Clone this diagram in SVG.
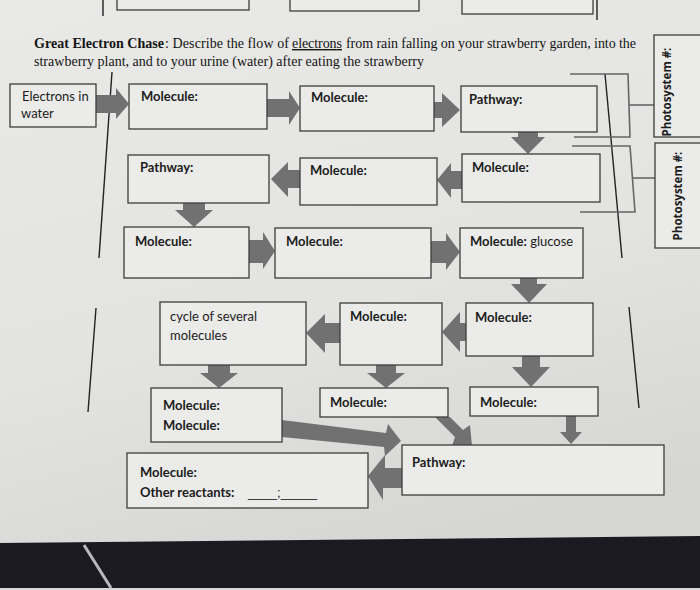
<svg xmlns="http://www.w3.org/2000/svg" width="700" height="590" viewBox="0 0 700 590">
<defs>
<linearGradient id="paper" x1="0" y1="0" x2="0.3" y2="1">
<stop offset="0" stop-color="#e9e9e7"/>
<stop offset="0.6" stop-color="#e3e3e1"/>
<stop offset="1" stop-color="#d6d6d4"/>
</linearGradient>
<style>
.box{fill:#ebebe9;stroke:#3c3c3c;stroke-width:1.3}
.arr{fill:#717171;stroke:none}
.ln{stroke:#222;stroke-width:1.4;fill:none}
.br{stroke:#666;stroke-width:1.6;fill:none}
.lbl{font-family:Lato,"Liberation Sans",sans-serif;font-size:13px;fill:#1c1c1c}
.b{font-weight:bold}
.blank{font-family:"Liberation Sans",sans-serif;font-size:13px;fill:#1c1c1c}
.ttl{font-family:"Liberation Serif",serif;font-size:14px;fill:#141414}
.ps{font-family:"Open Sans","Liberation Sans",sans-serif;font-size:11.5px;font-weight:bold;fill:#1c1c1c}
</style>
</defs>
<rect x="0" y="0" width="700" height="590" fill="url(#paper)"/>

<!-- top partial boxes -->
<g id="top-partial">
<rect class="box" x="117" y="-5" width="132" height="15"/>
<rect class="box" x="290" y="-5" width="129" height="16"/>
<rect class="box" x="462" y="-5" width="131" height="19"/>
<line class="ln" x1="103" y1="0" x2="103" y2="16"/>
<line class="ln" x1="597" y1="0" x2="597" y2="20"/>
</g>

<!-- title -->
<g id="title">
<text class="ttl" x="34" y="48" font-weight="bold" textLength="130" lengthAdjust="spacing">Great Electron Chase</text>
<text class="ttl" x="165" y="48" textLength="124" lengthAdjust="spacing">: Describe the flow of</text>
<text class="ttl" x="292" y="48" text-decoration="underline" textLength="50" lengthAdjust="spacing">electrons</text>
<text class="ttl" x="346" y="48" textLength="290" lengthAdjust="spacing">from rain falling on your strawberry garden, into the</text>
<text class="ttl" x="34" y="66" textLength="390" lengthAdjust="spacing">strawberry plant, and to your urine (water) after eating the strawberry</text>
</g>

<!-- long side lines and brackets -->
<g id="lines">
<line class="ln" x1="112" y1="72" x2="99" y2="258"/>
<line class="ln" x1="605" y1="74" x2="622" y2="258"/>
<line class="ln" x1="96" y1="308" x2="88" y2="412"/>
<line class="ln" x1="629" y1="307" x2="639" y2="408"/>
<polyline class="br" points="570,74 628,74 630,137 574,137"/>
<line class="br" x1="629" y1="105" x2="654" y2="105"/>
<polyline class="br" points="572,146 630,146 635,212 580,212"/>
<line class="br" x1="633" y1="178" x2="655" y2="178"/>
</g>

<!-- connectors -->
<g id="connectors">
<path class="arr" d="M96,95 L116,95 L116,88 L129,104 L116,119 L116,113 L96,113 Z"/>
<path class="arr" d="M267,99 L289,99 L289,91 L300,108 L289,125 L289,117 L267,117 Z"/>
<path class="arr" d="M434,102 L442,102 L442,93 L460,110 L442,127 L442,118 L434,118 Z"/>
<path class="arr" d="M518,132 L538,132 L538,137 L545,137 L528,154 L511,137 L518,137 Z"/>
<path class="arr" d="M462,171 L451,171 L451,163 L437,180 L451,198 L451,189 L462,189 Z"/>
<path class="arr" d="M300,170 L288,170 L288,162 L271,179 L288,197 L288,188 L300,188 Z"/>
<path class="arr" d="M183,203 L205,203 L205,210 L213,210 L194,227 L175,210 L183,210 Z"/>
<path class="arr" d="M249,240 L263,240 L263,232 L275,251 L263,269 L263,263 L249,263 Z"/>
<path class="arr" d="M431,241 L446,241 L446,233 L460,252 L446,270 L446,263 L431,263 Z"/>
<path class="arr" d="M520,278 L537,278 L537,284 L547,284 L529,303 L511,284 L520,284 Z"/>
<path class="arr" d="M466,323 L460,323 L460,312 L442,332 L460,352 L460,341 L466,341 Z"/>
<path class="arr" d="M340,323 L325,323 L325,314 L306,333 L325,353 L325,343 L340,343 Z"/>
<path class="arr" d="M208,365 L230,365 L230,373 L238,373 L219,388 L200,373 L208,373 Z"/>
<path class="arr" d="M376,365 L396,365 L396,373 L405,373 L386,388 L367,373 L376,373 Z"/>
<path class="arr" d="M522,356 L540,356 L540,367 L550,367 L531,387 L512,367 L522,367 Z"/>
<path class="arr" d="M282,420 L386,433 L388,424 L401,441 L385,456 L384,447 L282,437 Z"/>
<path class="arr" d="M435,417 L450,417 L463,430 L470,425 L472,446 L452,446 L455,437 Z"/>
<path class="arr" d="M566,416 L576,416 L576,432 L582,432 L571,444 L560,432 L566,432 Z"/>
<path class="arr" d="M402,468 L385,468 L385,455 L368,476 L383,500 L383,488 L402,488 Z"/>
</g>

<!-- nodes -->
<g id="n-electrons"><rect class="box" x="10" y="84" width="86" height="43"/><text class="lbl" x="22" y="101">Electrons in</text><text class="lbl" x="21" y="118">water</text></g>
<g id="n-mol1"><rect class="box" x="129" y="84" width="138" height="45"/><text class="lbl b" x="141" y="101">Molecule:</text></g>
<g id="n-mol2"><rect class="box" x="300" y="86" width="134" height="45"/><text class="lbl b" x="311" y="102">Molecule:</text></g>
<g id="n-path1"><rect class="box" x="461" y="86" width="136" height="46"/><text class="lbl b" x="469" y="104">Pathway:</text></g>

<g id="n-path2"><rect class="box" x="128" y="155" width="141" height="48"/><text class="lbl b" x="140" y="172">Pathway:</text></g>
<g id="n-mol3"><rect class="box" x="300" y="158" width="137" height="47"/><text class="lbl b" x="310" y="175">Molecule:</text></g>
<g id="n-mol4"><rect class="box" x="462" y="154" width="138" height="48"/><text class="lbl b" x="472" y="172">Molecule:</text></g>

<g id="n-mol5"><rect class="box" x="124" y="227" width="125" height="51"/><text class="lbl b" x="135" y="246">Molecule:</text></g>
<g id="n-mol6"><rect class="box" x="275" y="228" width="156" height="50"/><text class="lbl b" x="286" y="246">Molecule:</text></g>
<g id="n-glucose"><rect class="box" x="460" y="228" width="123" height="50"/><text class="lbl" x="470" y="246"><tspan class="b">Molecule:</tspan> glucose</text></g>

<g id="n-cycle"><rect class="box" x="160" y="302" width="146" height="63"/><text class="lbl" x="170" y="321">cycle of several</text><text class="lbl" x="170" y="340">molecules</text></g>
<g id="n-mol7"><rect class="box" x="340" y="303" width="102" height="62"/><text class="lbl b" x="350" y="321">Molecule:</text></g>
<g id="n-mol8"><rect class="box" x="466" y="303" width="127" height="53"/><text class="lbl b" x="475" y="322">Molecule:</text></g>

<g id="n-molmol"><rect class="box" x="151" y="388" width="131" height="54"/><text class="lbl b" x="163" y="410">Molecule:</text><text class="lbl b" x="163" y="430">Molecule:</text></g>
<g id="n-mol9"><rect class="box" x="320" y="388" width="128" height="29"/><text class="lbl b" x="330" y="407">Molecule:</text></g>
<g id="n-mol10"><rect class="box" x="470" y="387" width="128" height="29"/><text class="lbl b" x="480" y="407">Molecule:</text></g>

<g id="n-path3"><rect class="box" x="402" y="445" width="262" height="50"/><text class="lbl b" x="412" y="467">Pathway:</text></g>
<g id="n-final"><rect class="box" x="127" y="453" width="241" height="55"/><text class="lbl b" x="140" y="477">Molecule:</text><text class="lbl b" x="140" y="497">Other reactants:</text><text class="blank" x="248" y="497" textLength="69" lengthAdjust="spacingAndGlyphs">____;_____</text></g>

<g id="n-ps1"><rect class="box" x="654" y="35" width="60" height="102"/><text class="ps" text-anchor="middle" transform="translate(671,92) rotate(-90)">Photosystem #:</text></g>
<g id="n-ps2"><rect class="box" x="655" y="143" width="60" height="105"/><text class="ps" text-anchor="middle" transform="translate(682,196) rotate(-90)">Photosystem #:</text></g>

<!-- dark table below the paper -->
<g id="table">
<polygon points="0,543 700,536 700,588 0,588" fill="#1b1a22"/>
<rect x="0" y="588" width="700" height="2" fill="#d8d8d8"/>
<line x1="84" y1="545" x2="111" y2="588" stroke="#b9b9bd" stroke-width="3"/>
</g>
</svg>
